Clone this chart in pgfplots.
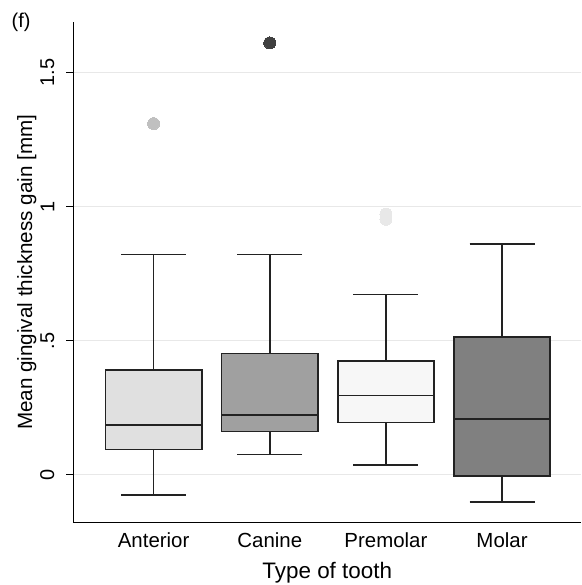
\documentclass[border=0pt]{standalone}
\usepackage{pgfplots}
\pgfplotsset{compat=1.18}
\usepgfplotslibrary{statistics}
\usepackage{fontspec}
\setmainfont{Liberation Sans}
\definecolor{c1}{RGB}{224,224,224}
\definecolor{c2}{RGB}{160,160,160}
\definecolor{c3}{RGB}{247,247,247}
\definecolor{c4}{RGB}{128,128,128}
\definecolor{o1}{RGB}{192,192,192}
\definecolor{o2}{RGB}{64,64,64}
\definecolor{o3}{RGB}{232,232,232}
\definecolor{lc}{RGB}{34,34,34}
\begin{document}
\begin{tikzpicture}
\begin{axis}[
  at={(0,0)}, anchor=south west,
  scale only axis, width=507.5bp, height=500.5bp,
  xmin=0.31, xmax=4.68, ymin=-0.178, ymax=1.689,
  boxplot/draw direction=y,
  boxplot/every box/.style={line width=1.6bp, draw=lc},
  boxplot/every whisker/.style={line width=1.6bp, draw=lc},
  boxplot/every median/.style={line width=1.6bp, draw=lc},
  axis x line*=bottom, axis y line*=left,
  axis line style={-, line width=0.9bp, black},
  xtick={1,2,3,4}, xticklabels={Anterior,Canine,Premolar,Molar},
  xtick style={draw=none},
  ytick={0,0.5,1,1.5}, yticklabels={0,.5,1,1.5},
  tick align=outside, major tick length=7bp,
  ytick style={line width=0.9bp, color=black},
  yticklabel style={rotate=90, anchor=south, inner sep=0pt, font=\fontsize{20}{24}\selectfont},
  xticklabel style={anchor=north, inner sep=0pt, font=\fontsize{20.5}{24}\selectfont},
  xticklabel shift=3bp, yticklabel shift=12bp,
  ymajorgrids, grid style={line width=0.9bp, color=black!9},
  xlabel={Type of tooth},
  xlabel style={at={(axis description cs:0.5,-0.0789)}, anchor=north, inner sep=0pt, font=\fontsize{22.5}{26}\selectfont},
  ylabel={Mean gingival thickness gain [mm]},
  ylabel style={at={(axis description cs:-0.1113,0.5)}, anchor=north, rotate=0, inner sep=0pt, font=\fontsize{20.7}{24}\selectfont},
  clip=false,
]
\addplot[boxplot prepared={draw position=1, lower whisker=-0.076, lower quartile=0.095, median=0.185, upper quartile=0.390, upper whisker=0.821, box extend=0.83, whisker extend=0.56},
  fill=c1, draw=lc, line width=1.6bp] coordinates {};
\addplot[boxplot prepared={draw position=2, lower whisker=0.075, lower quartile=0.162, median=0.222, upper quartile=0.453, upper whisker=0.821, box extend=0.83, whisker extend=0.56},
  fill=c2, draw=lc, line width=1.6bp] coordinates {};
\addplot[boxplot prepared={draw position=3, lower whisker=0.036, lower quartile=0.195, median=0.296, upper quartile=0.424, upper whisker=0.673, box extend=0.83, whisker extend=0.56},
  fill=c3, draw=lc, line width=1.6bp] coordinates {};
\addplot[boxplot prepared={draw position=4, lower whisker=-0.102, lower quartile=-0.004, median=0.209, upper quartile=0.513, upper whisker=0.861, box extend=0.83, whisker extend=0.56},
  fill=c4, draw=lc, line width=1.6bp] coordinates {};
\addplot[only marks, color=o1, mark=*, mark size=6bp, mark options={draw=o1, fill=o1, line width=0pt}] coordinates {(1,1.310)};
\addplot[only marks, color=o2, mark=*, mark size=6bp, mark options={draw=o2, fill=o2, line width=0pt}] coordinates {(2,1.611)};
\addplot[only marks, color=o3, mark=*, mark size=6bp, mark options={draw=o3, fill=o3, line width=0pt}] coordinates {(3,0.953) (3,0.972)};
\node[font=\fontsize{20}{24}\selectfont, inner sep=0pt] at (axis description cs:-0.1034,1) {(f)};
\end{axis}
\pgfresetboundingbox
\path[use as bounding box] (-73.5bp,-62.5bp) rectangle (508.5bp,522.5bp);
\end{tikzpicture}
\end{document}
